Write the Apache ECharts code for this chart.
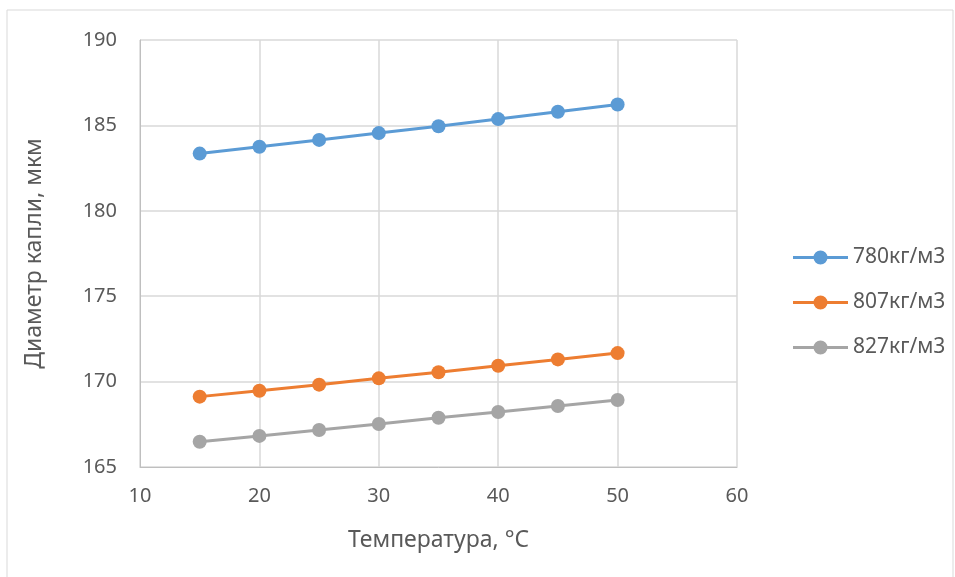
<!DOCTYPE html>
<html><head><meta charset="utf-8">
<script src="https://cdn.jsdelivr.net/npm/echarts@6/dist/echarts.min.js"></script>
<style>html,body{margin:0;padding:0;background:#fff}#c{width:955px;height:577px}</style>
</head><body><div id="c"></div>
<script>
const temperatures = [15, 20, 25, 30, 35, 40, 45, 50];
const seriesNames = ['780кг/м3', '807кг/м3', '827кг/м3'];
const d780 = [183.35, 183.75, 184.15, 184.55, 184.95, 185.37, 185.8, 186.22];
const d807 = [169.12, 169.46, 169.82, 170.19, 170.55, 170.93, 171.3, 171.67];
const d827 = [166.48, 166.82, 167.17, 167.52, 167.88, 168.22, 168.57, 168.92];
const colors = ['#5b9bd5', '#ed7d31', '#a5a5a5'];
const font = '"Noto Sans", sans-serif';
const legendIcon = 'path://M0,6L22,6L22,9L0,9Z M33,6L55,6L55,9L33,9Z M20.5,7.5a7,7 0 1,1 14,0a7,7 0 1,1 -14,0Z';
const chart = echarts.init(document.getElementById('c'), null, {renderer: 'canvas'});
const all = [d780, d807, d827];
chart.setOption({
  animation: false,
  backgroundColor: '#fff',
  graphic: [{type: 'rect', shape: {x: 7, y: 10, width: 946, height: 570}, style: {fill: 'none', stroke: '#d9d9d9', lineWidth: 1}}],
  grid: {left: 140, right: 218, top: 40, bottom: 110},
  legend: {
    orient: 'vertical', left: 788, top: 242, itemGap: 24, itemWidth: 55, itemHeight: 15,
    icon: legendIcon,
    textStyle: {color: '#595959', fontSize: 21, fontFamily: font},
    data: seriesNames
  },
  xAxis: {
    type: 'value', min: 10, max: 60, interval: 10,
    name: 'Температура, °C', nameLocation: 'middle', nameGap: 62,
    nameTextStyle: {color: '#595959', fontSize: 23, fontFamily: font},
    axisLine: {show: true, lineStyle: {color: '#bfbfbf'}},
    axisTick: {show: false},
    axisLabel: {color: '#595959', fontSize: 20, fontFamily: font, margin: 19},
    splitLine: {show: true, lineStyle: {color: '#d9d9d9', width: 1.5}}
  },
  yAxis: {
    type: 'value', min: 165, max: 190, interval: 5,
    name: 'Диаметр капли, мкм', nameLocation: 'middle', nameGap: 94,
    nameTextStyle: {color: '#595959', fontSize: 23, fontFamily: font},
    axisLine: {show: true, lineStyle: {color: '#bfbfbf'}},
    axisTick: {show: false},
    axisLabel: {color: '#595959', fontSize: 20, fontFamily: font, margin: 23},
    splitLine: {show: true, lineStyle: {color: '#d9d9d9', width: 1.5}}
  },
  series: seriesNames.map((n, i) => ({
    name: n, type: 'line', data: temperatures.map((t, j) => [t, all[i][j]]),
    symbol: 'circle', symbolSize: 14,
    lineStyle: {color: colors[i], width: 3},
    itemStyle: {color: colors[i]}
  }))
});
</script></body></html>
